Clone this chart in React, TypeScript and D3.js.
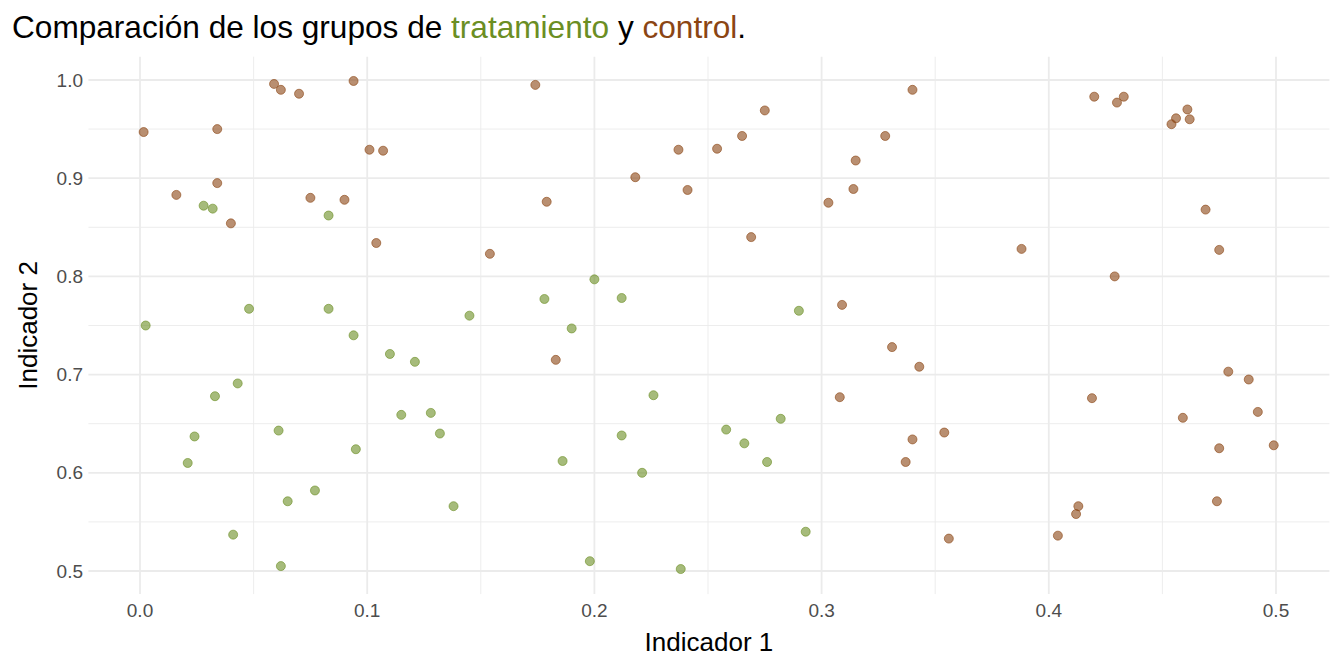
import React from "react";
import * as d3 from "d3";

const tratX = [0.028, 0.032, 0.083, 0.048, 0.083, 0.145, 0.0025, 0.094, 0.110, 0.121, 0.043, 0.033, 0.115, 0.128, 0.132, 0.061, 0.024, 0.095, 0.021, 0.077, 0.065, 0.138, 0.041, 0.062, 0.178, 0.200, 0.212, 0.290, 0.190, 0.226, 0.212, 0.186, 0.221, 0.258, 0.266, 0.276, 0.282, 0.293, 0.198, 0.238];
const tratY = [0.872, 0.869, 0.862, 0.767, 0.767, 0.760, 0.750, 0.740, 0.721, 0.713, 0.691, 0.678, 0.659, 0.661, 0.640, 0.643, 0.637, 0.624, 0.610, 0.582, 0.571, 0.566, 0.537, 0.505, 0.777, 0.797, 0.778, 0.765, 0.747, 0.679, 0.638, 0.612, 0.600, 0.644, 0.630, 0.611, 0.655, 0.540, 0.510, 0.502];

const ctrlX = [0.0016, 0.034, 0.059, 0.062, 0.070, 0.094, 0.101, 0.107, 0.034, 0.016, 0.075, 0.090, 0.040, 0.104, 0.174, 0.179, 0.154, 0.218, 0.237, 0.241, 0.254, 0.265, 0.275, 0.269, 0.303, 0.314, 0.315, 0.328, 0.309, 0.183, 0.308, 0.420, 0.430, 0.433, 0.454, 0.456, 0.461, 0.462, 0.469, 0.475, 0.388, 0.429, 0.340, 0.331, 0.343, 0.340, 0.337, 0.354, 0.356, 0.419, 0.404, 0.413, 0.412, 0.459, 0.479, 0.488, 0.492, 0.475, 0.499, 0.474];
const ctrlY = [0.947, 0.950, 0.996, 0.990, 0.986, 0.999, 0.929, 0.928, 0.895, 0.883, 0.880, 0.878, 0.854, 0.834, 0.995, 0.876, 0.823, 0.901, 0.929, 0.888, 0.930, 0.943, 0.969, 0.840, 0.875, 0.889, 0.918, 0.943, 0.771, 0.715, 0.677, 0.983, 0.977, 0.983, 0.955, 0.961, 0.970, 0.960, 0.868, 0.827, 0.828, 0.800, 0.990, 0.728, 0.708, 0.634, 0.611, 0.641, 0.533, 0.676, 0.536, 0.566, 0.558, 0.656, 0.703, 0.695, 0.662, 0.625, 0.628, 0.571];

const xTicks = [0, 0.1, 0.2, 0.3, 0.4, 0.5];
const yTicks = [0.5, 0.6, 0.7, 0.8, 0.9, 1.0];
const xMinor = [0.05, 0.15, 0.25, 0.35, 0.45];
const yMinor = [0.55, 0.65, 0.75, 0.85, 0.95];

const GREEN = "#6B8E23";
const BROWN = "#8B4513";

export default function App() {
  const W = 1344, H = 672;
  const x = d3.scaleLinear().domain([0, 0.5]).range([140, 1276]);
  const y = d3.scaleLinear().domain([0.5, 1.0]).range([571, 80]);
  const px0 = x(-0.0227), px1 = x(0.5235);
  const py0 = y(1.0237), py1 = y(0.4765);
  const font = "'Liberation Sans', Arial, sans-serif";
  const trat = tratX.map((v, i) => [v, tratY[i]]);
  const ctrl = ctrlX.map((v, i) => [v, ctrlY[i]]);
  return (
    <svg width={W} height={H} style={{ position: "absolute", left: 0, top: 0 }} fontFamily={font}>
      <rect width={W} height={H} fill="#fff" />
      {xMinor.map((t) => <line key={"xm" + t} x1={x(t)} x2={x(t)} y1={py0} y2={py1} stroke="#ebebeb" strokeWidth={0.9} />)}
      {yMinor.map((t) => <line key={"ym" + t} y1={y(t)} y2={y(t)} x1={px0} x2={px1} stroke="#ebebeb" strokeWidth={0.9} />)}
      {xTicks.map((t) => <line key={"x" + t} x1={x(t)} x2={x(t)} y1={py0} y2={py1} stroke="#ebebeb" strokeWidth={1.8} />)}
      {yTicks.map((t) => <line key={"y" + t} y1={y(t)} y2={y(t)} x1={px0} x2={px1} stroke="#ebebeb" strokeWidth={1.8} />)}
      {xTicks.map((t) => (
        <text key={"xl" + t} x={x(t)} y={617} textAnchor="middle" fontSize={19} fill="#4d4d4d">{d3.format(".1f")(t)}</text>
      ))}
      {yTicks.map((t) => (
        <text key={"yl" + t} x={83} y={y(t) + 6.5} textAnchor="end" fontSize={19} fill="#4d4d4d">{d3.format(".1f")(t)}</text>
      ))}
      {trat.map((d, i) => (
        <circle key={"t" + i} cx={x(d[0])} cy={y(d[1])} r={4.5} fill={GREEN} fillOpacity={0.6} stroke={GREEN} strokeOpacity={0.6} strokeWidth={1} />
      ))}
      {ctrl.map((d, i) => (
        <circle key={"c" + i} cx={x(d[0])} cy={y(d[1])} r={4.5} fill={BROWN} fillOpacity={0.6} stroke={BROWN} strokeOpacity={0.6} strokeWidth={1} />
      ))}
      <text x={(px0 + px1) / 2} y={651} textAnchor="middle" fontSize={26} fill="#000">Indicador 1</text>
      <text transform={`translate(37,${(py0 + py1) / 2}) rotate(-90)`} textAnchor="middle" fontSize={26} fill="#000">Indicador 2</text>
      <text x={12} y={38} fontSize={31.6} fill="#000">
        Comparación de los grupos de <tspan fill={GREEN}>tratamiento</tspan> y <tspan fill={BROWN}>control</tspan>.
      </text>
    </svg>
  );
}
